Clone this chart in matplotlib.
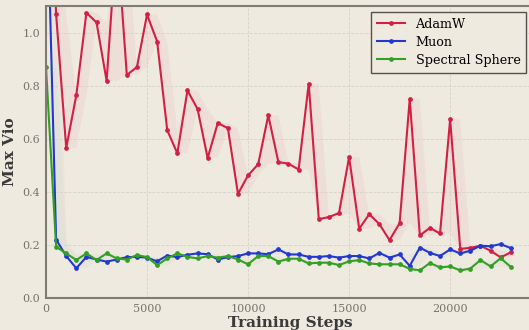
import numpy as np
import pandas as pd
from matplotlib import pyplot as plt

steps = np.arange(0, 23001, 500)

adamw = [2.00, 1.07, 0.565, 0.764, 1.075, 1.038, 0.818, 1.37, 0.840, 0.870,
         1.068, 0.966, 0.632, 0.545, 0.782, 0.712, 0.527, 0.659, 0.640, 0.392,
         0.462, 0.504, 0.688, 0.512, 0.506, 0.484, 0.807, 0.297, 0.305, 0.320,
         0.531, 0.261, 0.316, 0.278, 0.218, 0.282, 0.749, 0.236, 0.264, 0.243,
         0.673, 0.185, 0.189, 0.197, 0.178, 0.153, 0.172]

muon = [1.68, 0.220, 0.158, 0.112, 0.155, 0.145, 0.137, 0.145, 0.154, 0.155,
        0.152, 0.138, 0.160, 0.154, 0.163, 0.168, 0.165, 0.145, 0.154, 0.158,
        0.168, 0.168, 0.165, 0.183, 0.164, 0.164, 0.155, 0.155, 0.158, 0.152,
        0.158, 0.158, 0.149, 0.170, 0.152, 0.164, 0.121, 0.190, 0.170, 0.158,
        0.183, 0.168, 0.178, 0.197, 0.195, 0.203, 0.188]

spectral = [0.870, 0.193, 0.168, 0.143, 0.168, 0.143, 0.168, 0.149, 0.145, 0.162,
            0.154, 0.124, 0.149, 0.168, 0.155, 0.149, 0.158, 0.152, 0.158, 0.145,
            0.127, 0.158, 0.158, 0.137, 0.148, 0.148, 0.130, 0.133, 0.133, 0.124,
            0.138, 0.143, 0.130, 0.127, 0.127, 0.127, 0.110, 0.104, 0.132, 0.115,
            0.119, 0.104, 0.111, 0.143, 0.119, 0.150, 0.117]

series = [
    ('AdamW', adamw, '#d41f45', '#d41f45'),
    ('Muon', muon, '#2238d0', '#8a9bb0'),
    ('Spectral Sphere', spectral, '#31a023', '#8a9bb0'),
]

bg = '#efeadf'
plt.rcParams['font.family'] = 'DejaVu Serif'

fig = plt.figure(figsize=(5.29, 3.30), dpi=100, facecolor=bg)
ax = fig.add_axes([46 / 529, 32 / 330, 488 / 529, 292 / 330], facecolor=bg)

for name, vals, color, band in series:
    s = pd.Series(vals)
    lo = s.rolling(2, min_periods=1).min()
    hi = s.rolling(2, min_periods=1).max()
    ax.fill_between(steps, lo, hi, color=band, alpha=0.05, linewidth=0)
    ax.plot(steps, vals, color=color, lw=1.5, marker='o', markersize=2.4,
            label=name)

ax.set_xlim(0, 24150)
ax.set_ylim(0, 1.1)
ax.set_xticks([0, 5000, 10000, 15000, 20000])
ax.set_yticks([0.0, 0.2, 0.4, 0.6, 0.8, 1.0])
ax.set_yticklabels(['0.0', '0.2', '0.4', '0.6', '0.8', '1.0'])
ax.tick_params(labelsize=8, colors='#77736c', length=0, pad=4)
ax.grid(True, color='#d8d3c8', linestyle='--', linewidth=0.6)

for side in ['left', 'bottom', 'top', 'right']:
    ax.spines[side].set_color('#807c75')
    ax.spines[side].set_linewidth(1.5)

ax.set_xlabel('Training Steps', fontsize=11, fontweight='bold',
              color='#3a3a3a', labelpad=2)
ax.set_ylabel('Max Vio', fontsize=11, fontweight='bold', color='#3a3a3a')

leg = ax.legend(loc='upper right', bbox_to_anchor=(0.984, 0.98),
                fontsize=9.2, fancybox=False, framealpha=1, facecolor=bg,
                edgecolor='#55524d', borderpad=0.45, handlelength=2.2,
                labelspacing=0.4, borderaxespad=0)
leg.get_frame().set_linewidth(1.0)

fig.savefig('out.png', dpi=100, facecolor=bg)
